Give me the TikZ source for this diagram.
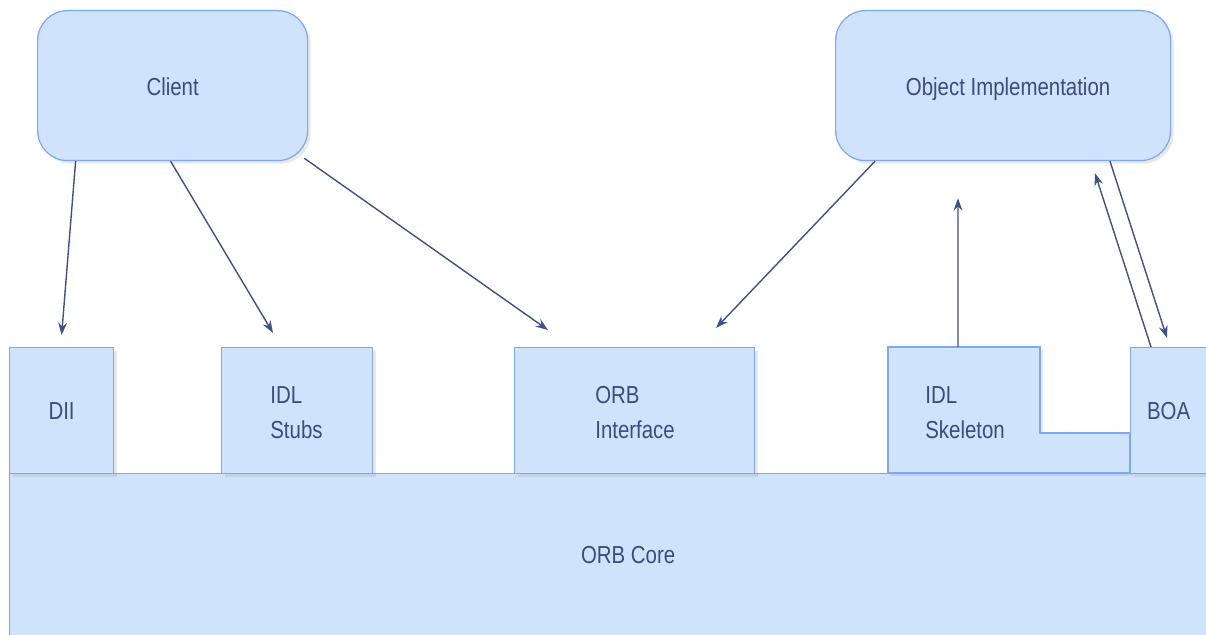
\documentclass[tikz,border=0pt]{standalone}
\usepackage{fontspec}
\setmainfont[FakeStretch=0.83]{Liberation Sans}
\usetikzlibrary{arrows.meta,shadows}

\definecolor{boxfill}{HTML}{CFE3FC}
\definecolor{boxline}{HTML}{7FA7F2}
\definecolor{inktext}{HTML}{3B4C7E}
\definecolor{inkarrow}{HTML}{3E5285}

\begin{document}
\begin{tikzpicture}[
			>={Stealth[length=7pt,width=5pt]},
			box/.style={draw=boxline, fill=boxfill, line width=0.7pt, anchor=north west, inner sep=0pt},
			shade/.style={drop shadow={opacity=0.18, shadow xshift=0.06cm, shadow yshift=-0.06cm}},
			lbl/.style={text=inktext, font=\fontsize{14}{20}\selectfont, align=left, inner xsep=0pt},
			link/.style={->, draw=inkarrow, line width=0.8pt}
		]
			\useasboundingbox (0,0) rectangle (24.12,12.7);
			
			% the two parties on top
			\node[box, shade, rounded corners=0.6cm, minimum width=5.4cm, minimum height=3cm] (client) at (0.74,12.5) {};
			\node[lbl] at ([yshift=-0.03cm]client.center) {Client};
			\node[box, shade, rounded corners=0.6cm, minimum width=6.7cm, minimum height=3cm] (impl) at (16.7,12.5) {};
			\node[lbl] at ([xshift=0.1cm,yshift=-0.08cm]impl.center) {Object Implementation};
			
			% ORB core and the parts sitting on it
			\node[box, minimum width=23.94cm, minimum height=3.24cm] (core) at (0.18,3.24) {};
			\node[lbl] at ([xshift=0.4cm]core.center) {ORB Core};
			
			\node[box, shade, minimum width=2.08cm, minimum height=2.52cm] (dii) at (0.18,5.76) {};
			\node[lbl] at (dii.center) {DII};
			\node[box, shade, minimum width=3.02cm, minimum height=2.52cm] (stubs) at (4.42,5.76) {};
			\node[lbl, anchor=west] at ([xshift=0.98cm,yshift=-0.04cm]stubs.west) {IDL\\Stubs};
			\node[box, shade, minimum width=4.8cm, minimum height=2.52cm] (orbif) at (10.28,5.76) {};
			\node[lbl, anchor=west] at ([xshift=1.62cm,yshift=-0.04cm]orbif.west) {ORB\\Interface};
			
			% skeleton has a foot reaching over to the BOA
			\draw[draw=boxline, fill=boxfill, line width=0.7pt, shade] (17.76,5.76) -- (20.8,5.76) -- (20.8,4.04)
				-- (22.6,4.04) -- (22.6,3.24) -- (17.76,3.24) -- cycle;
			\node[anchor=north west, inner sep=0pt, minimum width=3.04cm, minimum height=2.52cm] (skel) at (17.76,5.76) {};
			\node[lbl, anchor=west] at ([xshift=0.74cm,yshift=-0.04cm]skel.west) {IDL\\Skeleton};
			\node[box, shade, minimum width=1.52cm, minimum height=2.52cm] (boa) at (22.6,5.76) {};
			\node[lbl] at (boa.center) {BOA};
			
			% calls
			\draw[link] ([xshift=-1.94cm]client.south) -- ([yshift=0.24cm]dii.north);
			\draw[link] ([xshift=-0.04cm]client.south) -- ([xshift=1.04cm,yshift=0.28cm]stubs.north west);
			\draw[link] ([xshift=-0.08cm,yshift=0.06cm]client.south east) -- ([xshift=0.68cm,yshift=0.34cm]orbif.north west);
			\draw[link] ([xshift=0.8cm]impl.south west) -- ([xshift=4.04cm,yshift=0.38cm]orbif.north west);
			\draw[link] ([xshift=1.4cm]skel.north west) -- ([xshift=2.46cm,yshift=-0.74cm]impl.south west);
			\draw[link] ([xshift=0.42cm]boa.north west) -- ([xshift=5.2cm,yshift=-0.24cm]impl.south west);
			\draw[link] ([xshift=5.5cm]impl.south west) -- ([xshift=0.74cm,yshift=0.18cm]boa.north west);
		\end{tikzpicture}
\end{document}
